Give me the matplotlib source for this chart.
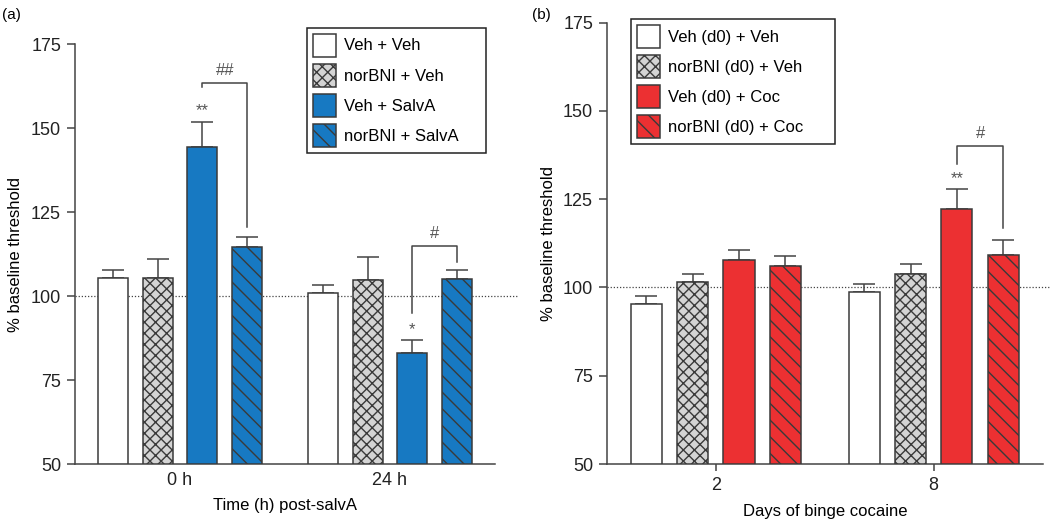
import numpy as np
import matplotlib.pyplot as plt
from matplotlib.patches import Patch

plt.rcParams['font.family'] = ['Liberation Sans', 'DejaVu Sans']
plt.rcParams['hatch.linewidth'] = 1.0

# ---- data (a) ----
groups_a = ['0 h', '24 h']
labels_a = ['Veh + Veh', 'norBNI + Veh', 'Veh + SalvA', 'norBNI + SalvA']
mean_a = [[105.3, 100.8],
          [105.3, 104.8],
          [144.4, 83.0],
          [114.7, 105.0]]
sem_a = [[2.3, 2.6],
         [5.8, 6.9],
         [7.4, 3.8],
         [2.9, 2.6]]

# ---- data (b) ----
groups_b = ['2', '8']
labels_b = ['Veh (d0) + Veh', 'norBNI (d0) + Veh', 'Veh (d0) + Coc', 'norBNI (d0) + Coc']
mean_b = [[95.4, 98.6],
          [101.6, 103.9],
          [107.8, 122.2],
          [106.2, 109.2]]
sem_b = [[2.3, 2.3],
         [2.1, 2.7],
         [2.7, 5.6],
         [2.6, 4.3]]

blue = '#1779c2'
red = '#ec3032'
edge = '#3a3a3a'
pitch = 0.213
width = 0.143
fs_tick = 13
fs_lab = 12


def styles(color):
    return [dict(facecolor='white', hatch=None),
            dict(facecolor='#d4d4d4', hatch='xxx'),
            dict(facecolor=color, hatch=None),
            dict(facecolor=color, hatch='\\\\')]


def draw_panel(ax, means, sems, color, labels):
    x = np.arange(2)
    st = styles(color)
    handles = []
    for i in range(4):
        pos = x + (i - 1.5) * pitch
        ax.bar(pos, np.array(means[i]) - 50, width, bottom=50,
               edgecolor=edge, linewidth=1.1, zorder=3, **st[i])
        ax.errorbar(pos, means[i], yerr=[np.zeros(2), sems[i]], fmt='none',
                    ecolor='#444444', elinewidth=1.1, capsize=8, capthick=1.1,
                    zorder=2)
        handles.append(Patch(edgecolor=edge, linewidth=1.1, label=labels[i],
                             **st[i]))
    ax.set_xlim(-0.5, 1.5)
    ax.set_ylim(50, 175)
    ax.set_yticks([50, 75, 100, 125, 150, 175])
    for s in ['top', 'right']:
        ax.spines[s].set_visible(False)
    for s in ['left', 'bottom']:
        ax.spines[s].set_color('#444444')
        ax.spines[s].set_linewidth(1.1)
    ax.tick_params(axis='y', length=6, width=1.1, color='#444444',
                   labelsize=fs_tick, pad=4, labelcolor='#222222')
    ax.set_ylabel('% baseline threshold', fontsize=fs_lab)
    return handles


fig = plt.figure(figsize=(10.5, 5.21), dpi=100)
ax1 = fig.add_axes([0.0714, 0.1094, 0.40, 0.8061])
ax2 = fig.add_axes([0.578, 0.1094, 0.415, 0.847])

h1 = draw_panel(ax1, mean_a, sem_a, blue, labels_a)
h2 = draw_panel(ax2, mean_b, sem_b, red, labels_b)
ax1.yaxis.set_label_coords(-0.124, 0.5)
ax2.yaxis.set_label_coords(-0.117, 0.5)

ax1.set_xticks([0, 1])
ax1.set_xticklabels(groups_a)
ax1.tick_params(axis='x', length=0, labelsize=fs_tick, pad=6, labelcolor='#222222')
ax1.set_xlabel('Time (h) post-salvA', fontsize=fs_lab)
ax1.xaxis.set_label_coords(0.5, -0.082)
ax1.axhline(100, xmin=0, xmax=1.052, color='#444444', linestyle=(0, (1, 1.5)),
            linewidth=0.9, clip_on=False, zorder=1)

ax2.set_xticks([0, 1])
ax2.set_xticklabels(groups_b)
ax2.tick_params(axis='x', length=5, width=1.1, color='#444444',
                labelsize=fs_tick, pad=4, labelcolor='#222222')
ax2.set_xlabel('Days of binge cocaine', fontsize=fs_lab)
ax2.xaxis.set_label_coords(0.5, -0.09)
ax2.axhline(100, xmin=0, xmax=1.02, color='#444444', linestyle=(0, (1, 1.5)),
            linewidth=0.9, clip_on=False, zorder=1)

# significance marks; bar 3 and bar 4 centres inside each group
c3 = 0.5 * pitch
c4 = 1.5 * pitch
mark = dict(ha='center', va='bottom', fontsize=12, color='#555555')

ax1.text(c3, 153.0, '**', **mark)
ax1.plot([c3, c3, c4, c4], [162.2, 163.3, 163.3, 120.6], color='#444444', lw=1.1)
ax1.text((c3 + c4) / 2, 164.8, '##', **mark)
ax1.plot([1 + c3, 1 + c3, 1 + c4, 1 + c4], [94.8, 115.0, 115.0, 110.2],
         color='#444444', lw=1.1)
ax1.text(1 + c3, 87.8, '*', **mark)
ax1.text(1 + (c3 + c4) / 2, 116.5, '#', **mark)

ax2.text(1 + c3, 128.8, '**', **mark)
ax2.plot([1 + c3, 1 + c3, 1 + c4, 1 + c4], [134.9, 140.2, 140.2, 116.8],
         color='#444444', lw=1.1)
ax2.text(1 + (c3 + c4) / 2, 141.6, '#', **mark)

leg_kw = dict(loc='upper left', bbox_transform=fig.transFigure, fancybox=False,
              framealpha=1, edgecolor='#222222', fontsize=12, mode='expand',
              handlelength=1.38, handleheight=1.75, labelspacing=0.42,
              handletextpad=0.5, borderpad=0.35, borderaxespad=0)
l1 = ax1.legend(handles=h1, bbox_to_anchor=(0.2924, 0.5, 0.1705, 0.4468), **leg_kw)
l2 = ax2.legend(handles=h2, bbox_to_anchor=(0.601, 0.5, 0.1946, 0.463), **leg_kw)
for l in (l1, l2):
    l.get_frame().set_linewidth(1.1)

fig.text(0.002, 0.985, '(a)', fontsize=11, va='top')
fig.text(0.507, 0.985, '(b)', fontsize=11, va='top')

fig.savefig('out.png', dpi=100)
